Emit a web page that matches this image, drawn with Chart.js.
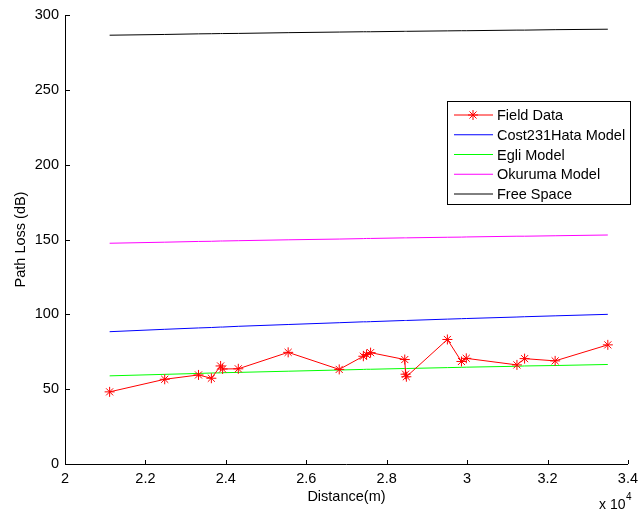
<!DOCTYPE html>
<html>
<head>
<meta charset="utf-8">
<script src="https://cdn.jsdelivr.net/npm/chart.js@4.4.0/dist/chart.umd.min.js"></script>
<style>
  html, body { margin: 0; padding: 0; background: #fff; }
  #wrap { width: 644px; height: 516px; }
</style>
</head>
<body>
<div id="wrap"><canvas id="lossChart" width="644" height="516"></canvas></div>
<script>
// Distances (m) where the measurements were taken
const distance = [21110, 22480, 23320, 23640, 23870, 23920, 24310, 25550, 26820, 27420, 27500, 27600,
                  28450, 28470, 28490, 29510, 29860, 29980, 31240, 31430, 32190, 33500];
// Path loss (dB) per series
const fieldData   = [48.2, 56.6, 59.5, 57.3, 65.5, 63.5, 63.6, 74.6, 63.2, 72.0, 73.2, 74.4,
                     69.8, 60.0, 58.3, 83.2, 68.5, 70.6, 66.2, 70.4, 68.9, 79.6];
const cost231Hata = [88.4, 90.0, 90.9, 91.2, 91.5, 91.5, 92.0, 93.2, 94.4, 95.0, 95.0, 95.1,
                     95.9, 95.9, 95.9, 96.8, 97.1, 97.2, 98.2, 98.4, 99.0, 100.0];
const egli        = [58.9, 59.9, 60.5, 60.8, 60.9, 61.0, 61.2, 62.0, 62.8, 63.2, 63.3, 63.3,
                     63.8, 63.8, 63.8, 64.4, 64.6, 64.7, 65.3, 65.5, 65.8, 66.5];
const okuruma     = [147.5, 148.2, 148.7, 148.8, 149.0, 149.0, 149.2, 149.8, 150.3, 150.6, 150.7, 150.7,
                     151.1, 151.1, 151.1, 151.5, 151.6, 151.7, 152.2, 152.2, 152.5, 153.0];
const freeSpace   = [286.5, 287.0, 287.4, 287.5, 287.6, 287.6, 287.7, 288.2, 288.6, 288.8, 288.8, 288.8,
                     289.1, 289.1, 289.1, 289.4, 289.5, 289.5, 289.9, 289.9, 290.2, 290.5];

const seriesNames = ['Field Data', 'Cost231Hata Model', 'Egli Model', 'Okuruma Model', 'Free Space'];
const xTickValues = [20000, 22000, 24000, 26000, 28000, 30000, 32000, 34000];
const yTickValues = [0, 50, 100, 150, 200, 250, 300];

const FONT = "'Liberation Sans', Arial, sans-serif";

function pts(arr) {
    return distance.map((d, i) => ({ x: d, y: arr[i] }));
}

// MATLAB style ticks pointing into the plot, plus the x 10^4 multiplier
const matlabAxes = {
    id: 'matlabAxes',
    afterDraw(chart) {
        const ctx = chart.ctx;
        const xs = chart.scales.x, ys = chart.scales.y;
        const area = chart.chartArea;
        ctx.save();
        ctx.strokeStyle = '#000';
        ctx.lineWidth = 1;
        xTickValues.forEach(v => {
            const px = Math.round(xs.getPixelForValue(v)) + 0.5;
            ctx.beginPath();
            ctx.moveTo(px, area.bottom);
            ctx.lineTo(px, area.bottom - 4);
            ctx.stroke();
        });
        yTickValues.forEach(v => {
            const py = Math.round(ys.getPixelForValue(v)) + 0.5;
            ctx.beginPath();
            ctx.moveTo(area.left, py);
            ctx.lineTo(area.left + 5, py);
            ctx.stroke();
        });
        // exponent label
        ctx.fillStyle = '#000';
        ctx.font = '14px ' + FONT;
        ctx.textBaseline = 'middle';
        ctx.textAlign = 'left';
        ctx.fillText('x 10', 599, 505);
        ctx.font = '10px ' + FONT;
        ctx.fillText('4', 626, 497);
        ctx.restore();
    }
};

// legend box inside the plot
const boxLegend = {
    id: 'boxLegend',
    afterDraw(chart) {
        const ctx = chart.ctx;
        const left = 447.5, top = 101.5, right = 630.5, bottom = 204.5;
        ctx.save();
        ctx.fillStyle = '#fff';
        ctx.fillRect(left, top, right - left, bottom - top);
        ctx.strokeStyle = '#000';
        ctx.lineWidth = 1;
        ctx.strokeRect(left, top, right - left, bottom - top);
        chart.data.datasets.forEach((ds, i) => {
            const y = 115 + i * 19.75;
            ctx.strokeStyle = ds.borderColor;
            ctx.beginPath();
            ctx.moveTo(454, y);
            ctx.lineTo(493, y);
            ctx.stroke();
            if (ds.pointStyle === 'star') {
                Chart.helpers.drawPoint(ctx, {
                    pointStyle: 'star', radius: 5, rotation: 0, borderWidth: 1
                }, 473, y);
            }
            ctx.fillStyle = '#000';
            ctx.font = '14.5px ' + FONT;
            ctx.textAlign = 'left';
            ctx.textBaseline = 'middle';
            ctx.fillText(ds.label, 497, y + 1);
        });
        ctx.restore();
    }
};

const colors = ['#ff0000', '#0000ff', '#00ff00', '#ff00ff', '#000000'];
const values = [fieldData, cost231Hata, egli, okuruma, freeSpace];

new Chart(document.getElementById('lossChart').getContext('2d'), {
    type: 'line',
    data: {
        datasets: values.map((arr, i) => ({
            label: seriesNames[i],
            data: pts(arr),
            borderColor: colors[i],
            backgroundColor: colors[i],
            borderWidth: 1,
            fill: false,
            tension: 0,
            pointStyle: i === 0 ? 'star' : 'circle',
            pointRadius: i === 0 ? 5 : 0,
            pointBorderWidth: 1,
            pointBorderColor: colors[i]
        }))
    },
    options: {
        responsive: false,
        animation: false,
        layout: { padding: { top: 15, right: 12, left: 0, bottom: 0 } },
        plugins: {
            legend: { display: false },
            tooltip: { enabled: false }
        },
        scales: {
            x: {
                type: 'linear',
                min: 20000,
                max: 34000,
                afterBuildTicks: s => { s.ticks = xTickValues.map(v => ({ value: v })); },
                afterFit: s => { s.height = 52; },
                ticks: {
                    color: '#000',
                    font: { family: FONT, size: 14.5 },
                    padding: 6,
                    maxRotation: 0,
                    callback: v => String(v / 10000)
                },
                grid: { display: true, drawOnChartArea: false, drawTicks: false },
                border: { color: '#000', width: 1 },
                title: {
                    display: true,
                    text: 'Distance(m)',
                    color: '#000',
                    font: { family: FONT, size: 14.5 },
                    padding: { top: 0, bottom: 10 }
                }
            },
            y: {
                min: 0,
                max: 300,
                afterBuildTicks: s => { s.ticks = yTickValues.map(v => ({ value: v })); },
                afterFit: s => { s.width = 65; },
                ticks: {
                    color: '#000',
                    font: { family: FONT, size: 14.5 },
                    padding: 6
                },
                grid: { display: true, drawOnChartArea: false, drawTicks: false },
                border: { color: '#000', width: 1 },
                title: {
                    display: true,
                    text: 'Path Loss (dB)',
                    color: '#000',
                    font: { family: FONT, size: 14.5 },
                    padding: { top: 12, bottom: 0 }
                }
            }
        }
    },
    plugins: [matlabAxes, boxLegend]
});
</script>
</body>
</html>
